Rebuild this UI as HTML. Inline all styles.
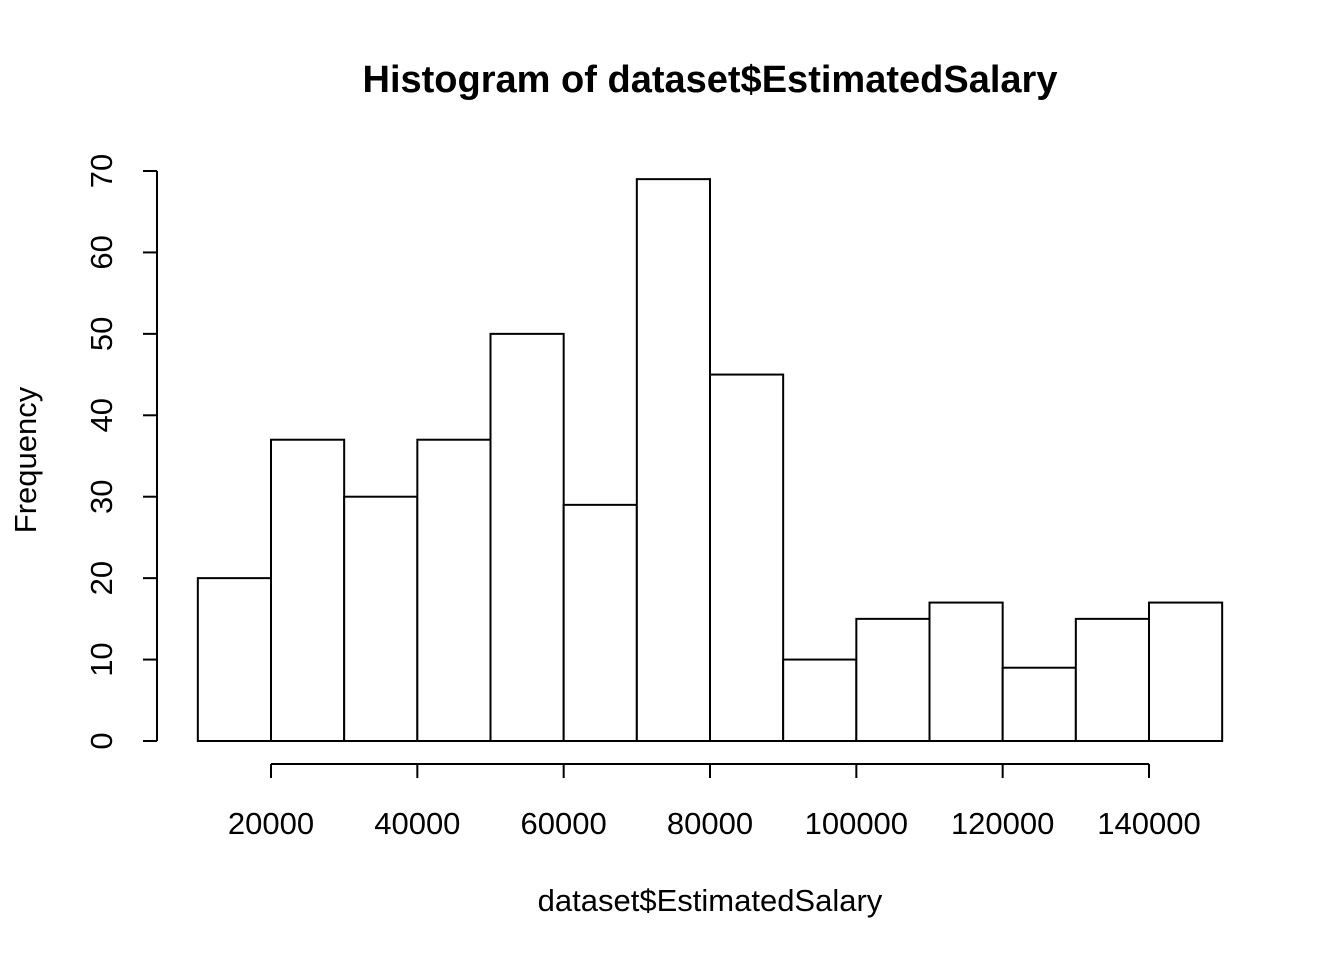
<!DOCTYPE html>
<html><head><meta charset="utf-8"><style>
html,body{margin:0;padding:0;background:#fff}
svg text{font-family:"Liberation Sans",Arial,sans-serif;fill:#000}
</style></head><body>
<svg id="chart" width="1344" height="960" viewBox="0 0 1344 960" xmlns="http://www.w3.org/2000/svg">
<rect width="1344" height="960" fill="#fff"/>
<text x="710" y="92" text-anchor="middle" font-size="38" font-weight="bold" textLength="695" lengthAdjust="spacingAndGlyphs">Histogram of dataset$EstimatedSalary</text>
<text x="710" y="911" text-anchor="middle" font-size="31">dataset$EstimatedSalary</text>
<text transform="translate(36,460) rotate(-90)" text-anchor="middle" font-size="31">Frequency</text>
<g id="bars"></g>
<g id="xaxis"></g>
<g id="yaxis"></g>
</svg>
<script>
const breaks = [10000,20000,30000,40000,50000,60000,70000,80000,90000,100000,110000,120000,130000,140000,150000];
const counts = [20,37,30,37,50,29,69,45,10,15,17,9,15,17];
const xTicks = [20000,40000,60000,80000,100000,120000,140000];
const yTicks = [0,10,20,30,40,50,60,70];
const NS="http://www.w3.org/2000/svg";
function X(v){return 271+(v-20000)*(1149-271)/120000;}
function Y(v){return 741-v*570/70;}
function mk(tag,attrs,parent){const e=document.createElementNS(NS,tag);for(const k in attrs)e.setAttribute(k,attrs[k]);parent.appendChild(e);return e;}
const bars=document.getElementById('bars');
counts.forEach((c,i)=>{
  const r=mk('rect',{x:X(breaks[i]),y:Y(c),width:X(breaks[i+1])-X(breaks[i]),height:Y(0)-Y(c),fill:'#fff',stroke:'#000','stroke-width':2},bars);
  
  
});
const xa=document.getElementById('xaxis');
mk('line',{x1:X(xTicks[0]),x2:X(xTicks[xTicks.length-1]),y1:764,y2:764,stroke:'#000','stroke-width':2},xa);
xTicks.forEach(t=>{
  mk('line',{x1:X(t),x2:X(t),y1:764,y2:778,stroke:'#000','stroke-width':2},xa);
  const tx=mk('text',{x:X(t),y:834,'text-anchor':'middle','font-size':31},xa);
  tx.textContent=t;
  
  
});
const ya=document.getElementById('yaxis');
mk('line',{x1:157,x2:157,y1:Y(yTicks[0]),y2:Y(yTicks[yTicks.length-1]),stroke:'#000','stroke-width':2},ya);
yTicks.forEach(t=>{
  mk('line',{x1:143,x2:157,y1:Y(t),y2:Y(t),stroke:'#000','stroke-width':2},ya);
  const tx=mk('text',{transform:'translate(112,'+Y(t)+') rotate(-90)','text-anchor':'middle','font-size':31},ya);
  tx.textContent=t;
  
  
});
</script>
</body></html>
